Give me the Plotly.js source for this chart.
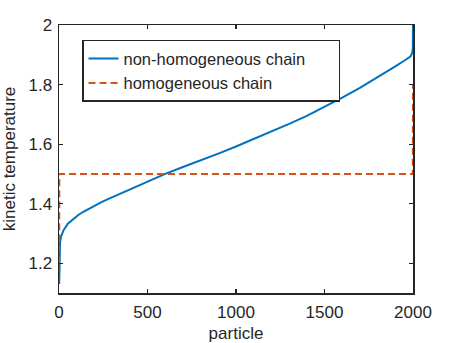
<!DOCTYPE html>
<html>
<head>
<meta charset="utf-8">
<script src="https://cdn.plot.ly/plotly-3.0.1.min.js"></script>
<style>
  html, body { margin: 0; padding: 0; background: #fff; }
  #chart { width: 457px; height: 343px; }
</style>
</head>
<body>
<div id="chart"></div>
<script>
// non-homogeneous chain
var nonHomX = [1, 3, 6, 12, 25, 50, 80, 107, 135, 165, 200, 240, 280, 333, 390, 446, 520, 597, 700, 800, 900, 1000, 1100, 1200, 1300, 1400, 1500, 1600, 1700, 1800, 1900, 1950, 1985, 1995, 1999, 2000];
var nonHomY = [1.13, 1.24, 1.27, 1.29, 1.31, 1.333, 1.349, 1.361, 1.372, 1.382, 1.393, 1.405, 1.416, 1.430, 1.444, 1.458, 1.478, 1.499, 1.523, 1.545, 1.568, 1.592, 1.617, 1.642, 1.668, 1.695, 1.725, 1.756, 1.789, 1.824, 1.861, 1.880, 1.894, 1.905, 1.92, 2.0];

// homogeneous chain
var homX = [1, 2, 1999, 2000];
var homY = [1.2, 1.5, 1.5, 1.8];

var axisColor = '#262626';
var fontFam = 'Liberation Sans, Arial, sans-serif';
var pad = '\u00a0\u00a0\u00a0\u00a0\u00a0\u00a0';

var trace1 = {
    x: nonHomX,
    y: nonHomY,
    type: 'scatter',
    mode: 'lines',
    name: 'non-homogeneous chain' + pad,
    line: {color: '#0072BD', width: 2}
};
var trace2 = {
    x: homX,
    y: homY,
    type: 'scatter',
    mode: 'lines',
    name: 'homogeneous chain',
    line: {color: '#D95319', width: 2, dash: '7px,4px'}
};

var layout = {
    width: 457,
    height: 343,
    margin: {l: 59, r: 44, t: 25, b: 50},
    paper_bgcolor: '#fff',
    plot_bgcolor: '#fff',
    font: {family: fontFam, size: 17, color: axisColor},
    showlegend: true,
    legend: {
        x: 0.065, y: 0.945,
        xanchor: 'left', yanchor: 'top',
        bgcolor: '#fff',
        bordercolor: axisColor,
        borderwidth: 1.5,
        font: {size: 16.5, color: axisColor},
        tracegroupgap: 0
    },
    xaxis: {
        title: {text: 'particle', font: {size: 17}, standoff: 6},
        range: [0, 2000],
        tickvals: [0, 500, 1000, 1500, 2000],
        ticks: 'inside',
        ticklen: 4,
        tickwidth: 1.2,
        tickcolor: axisColor,
        showline: true,
        linecolor: axisColor,
        linewidth: 1.5,
        mirror: 'ticks',
        showgrid: false,
        zeroline: false,
        ticklabelstandoff: 3,
        tickfont: {size: 17}
    },
    yaxis: {
        title: {text: 'kinetic temperature', font: {size: 17}, standoff: 9},
        range: [1.1, 2],
        tickvals: [1.2, 1.4, 1.6, 1.8, 2],
        ticktext: ['1.2', '1.4', '1.6', '1.8', '2'],
        ticks: 'inside',
        ticklen: 4,
        tickwidth: 1.2,
        tickcolor: axisColor,
        showline: true,
        linecolor: axisColor,
        linewidth: 1.5,
        mirror: 'ticks',
        showgrid: false,
        zeroline: false,
        ticklabelstandoff: 2,
        tickfont: {size: 17}
    }
};

Plotly.newPlot('chart', [trace1, trace2], layout, {displayModeBar: false, staticPlot: true});
</script>
</body>
</html>
